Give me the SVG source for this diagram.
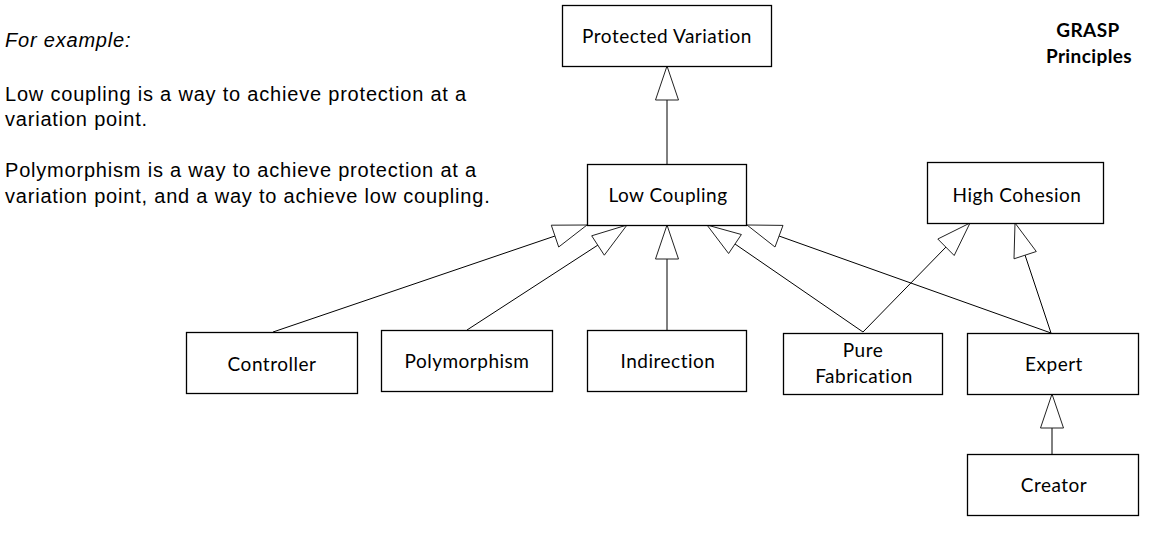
<svg xmlns="http://www.w3.org/2000/svg" width="1150" height="535" viewBox="0 0 1150 535">
<style>
.box{fill:#fff;stroke:#000;stroke-width:1.3}
.lbl{font-family:Lato,"Noto Sans",sans-serif;font-size:19px;letter-spacing:0.5px;fill:#000;text-anchor:middle}
.ttl{font-family:Lato,"Noto Sans",sans-serif;font-size:19px;letter-spacing:0.4px;font-weight:bold;fill:#000;text-anchor:middle}
.note{font-family:"Liberation Sans",Arial,sans-serif;font-size:20px;letter-spacing:0.8px;fill:#000}
.ln{fill:none;stroke:#000;stroke-width:1}
.tri{fill:#fff;stroke:#222;stroke-width:1}
</style>
<rect width="1150" height="535" fill="#fff"/>
<g id="note">
<text class="note" x="5" y="47" font-style="italic" letter-spacing="0.6">For example:</text>
<text class="note" x="5" y="101">Low coupling is a way to achieve protection at a</text>
<text class="note" x="5" y="126">variation point.</text>
<text class="note" x="5" y="177">Polymorphism is a way to achieve protection at a</text>
<text class="note" x="5" y="203">variation point, and a way to achieve low coupling.</text>
</g>
<g id="title">
<text class="ttl" x="1088" y="37">GRASP</text>
<text class="ttl" x="1089" y="63">Principles</text>
</g>
<g id="connectors">
<line class="ln" x1="667" y1="164" x2="667" y2="100"/>
<polygon class="tri" points="667,66 655.5,100 678.5,100"/>
<line class="ln" x1="273" y1="332" x2="555" y2="236"/>
<polygon class="tri" points="587,225 551.3,225.2 558.7,247"/>
<line class="ln" x1="467" y1="330" x2="598" y2="245"/>
<polygon class="tri" points="627,225 591.7,235.8 604.3,255.2"/>
<line class="ln" x1="667" y1="330" x2="667" y2="259"/>
<polygon class="tri" points="667,225 655.5,259 678.5,259"/>
<line class="ln" x1="863" y1="332" x2="735" y2="244"/>
<polygon class="tri" points="707,225 741.4,234.5 728.6,253.5"/>
<line class="ln" x1="1051" y1="333" x2="779" y2="236"/>
<polygon class="tri" points="747,225 783,225.4 775,247"/>
<line class="ln" x1="863" y1="332" x2="946" y2="247"/>
<polygon class="tri" points="970,223 937.8,239 954.2,255.5"/>
<line class="ln" x1="1051" y1="333" x2="1025" y2="255"/>
<polygon class="tri" points="1015,223 1014,258.8 1036.3,251.5"/>
<line class="ln" x1="1052" y1="454" x2="1052" y2="428"/>
<polygon class="tri" points="1052,394 1040.5,428 1063.5,428"/>
</g>
<g id="n-protected-variation">
<rect class="box" x="562.5" y="5.5" width="209" height="61"/>
<text class="lbl" x="667" y="43" letter-spacing="0.8">Protected Variation</text>
</g>
<g id="n-low-coupling">
<rect class="box" x="587.5" y="164.5" width="159" height="61"/>
<text class="lbl" x="668" y="202">Low Coupling</text>
</g>
<g id="n-high-cohesion">
<rect class="box" x="927.5" y="162.5" width="176" height="61"/>
<text class="lbl" x="1017" y="202">High Cohesion</text>
</g>
<g id="n-controller">
<rect class="box" x="186.5" y="332.5" width="171" height="61"/>
<text class="lbl" x="272" y="371">Controller</text>
</g>
<g id="n-polymorphism">
<rect class="box" x="381.5" y="330.5" width="171" height="61"/>
<text class="lbl" x="467" y="368">Polymorphism</text>
</g>
<g id="n-indirection">
<rect class="box" x="587.5" y="330.5" width="159" height="61"/>
<text class="lbl" x="668" y="368">Indirection</text>
</g>
<g id="n-pure-fabrication">
<rect class="box" x="783.5" y="333.5" width="159" height="61"/>
<text class="lbl" x="863" y="357">Pure</text>
<text class="lbl" x="864" y="383">Fabrication</text>
</g>
<g id="n-expert">
<rect class="box" x="967.5" y="333.5" width="171" height="61"/>
<text class="lbl" x="1054" y="371">Expert</text>
</g>
<g id="n-creator">
<rect class="box" x="967.5" y="454.5" width="171" height="61"/>
<text class="lbl" x="1054" y="492">Creator</text>
</g>
</svg>
